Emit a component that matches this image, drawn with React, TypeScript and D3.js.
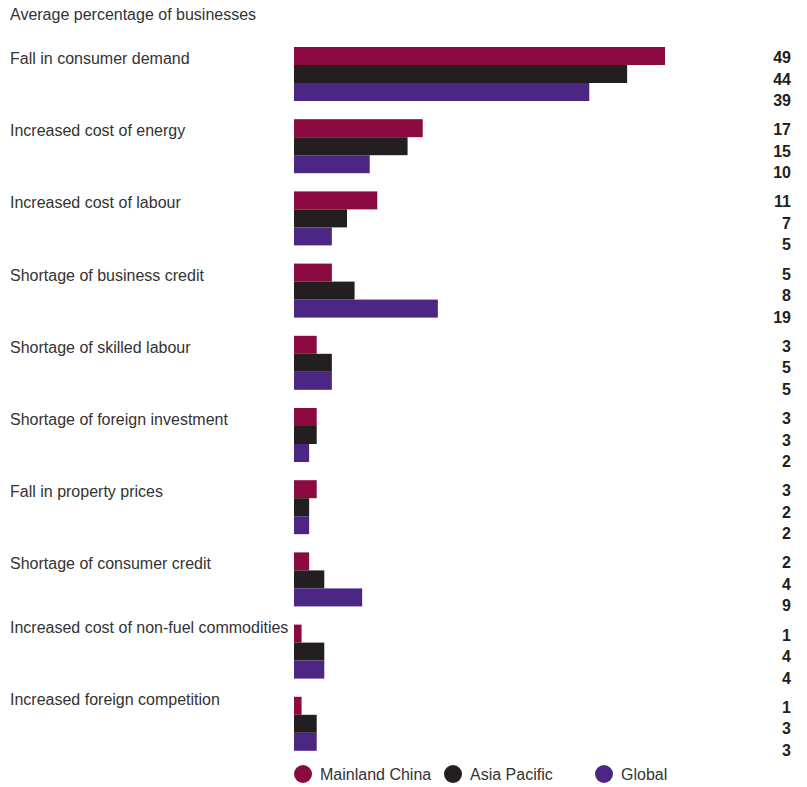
import React from "react";
import * as d3 from "d3";

const categories = [
  "Fall in consumer demand",
  "Increased cost of energy",
  "Increased cost of labour",
  "Shortage of business credit",
  "Shortage of skilled labour",
  "Shortage of foreign investment",
  "Fall in property prices",
  "Shortage of consumer credit",
  "Increased cost of non-fuel commodities",
  "Increased foreign competition",
];
const seriesNames = ["Mainland China", "Asia Pacific", "Global"];
const mainland = [49, 17, 11, 5, 3, 3, 3, 2, 1, 1];
const asiaPacific = [44, 15, 7, 8, 5, 3, 2, 4, 4, 3];
const globalVals = [39, 10, 5, 19, 5, 2, 2, 9, 4, 3];
const series = [mainland, asiaPacific, globalVals];
const colors = ["#8B0A40", "#231F20", "#4B2682"];

export default function App() {
  const W = 807, H = 787;
  const x = d3.scaleLinear().domain([0, 49]).range([294, 665]);
  const y = d3.scaleBand<string>().domain(categories).range([47, 47 + 10 * 72.2]).paddingInner(0).paddingOuter(0);
  const barH = 18;
  const font = "'Liberation Sans Narrow', 'Arial Narrow', 'Liberation Sans', Arial, sans-serif";
  const legendX = [303, 453, 604];
  return (
    <svg width={W} height={H} style={{ position: "absolute", left: 0, top: 0, background: "#fff" }} fontFamily={font}>
      <text x={10} y={20} fontSize={16} fill="#333">Average percentage of businesses</text>
      {categories.map((c, i) => {
        const gy = y(c)!;
        const labelDy = i >= 8 ? 8 : 17;
        return (
          <g key={c}>
            <text x={10} y={gy + labelDy} fontSize={16} fill="#333">{c}</text>
            {series.map((s, j) => (
              <rect key={j} x={x(0)} y={gy + j * barH} width={x(s[i]) - x(0)} height={barH} fill={colors[j]} />
            ))}
            {series.map((s, j) => (
              <text key={"v" + j} x={791} y={gy + 16 + j * 21.5} fontSize={16} fontWeight="bold" textAnchor="end" fill="#231F20">{s[i]}</text>
            ))}
          </g>
        );
      })}
      {seriesNames.map((n, j) => (
        <g key={n}>
          <circle cx={legendX[j]} cy={774} r={9} fill={colors[j]} />
          <text x={legendX[j] + 17} y={780} fontSize={16} fill="#333">{n}</text>
        </g>
      ))}
    </svg>
  );
}
